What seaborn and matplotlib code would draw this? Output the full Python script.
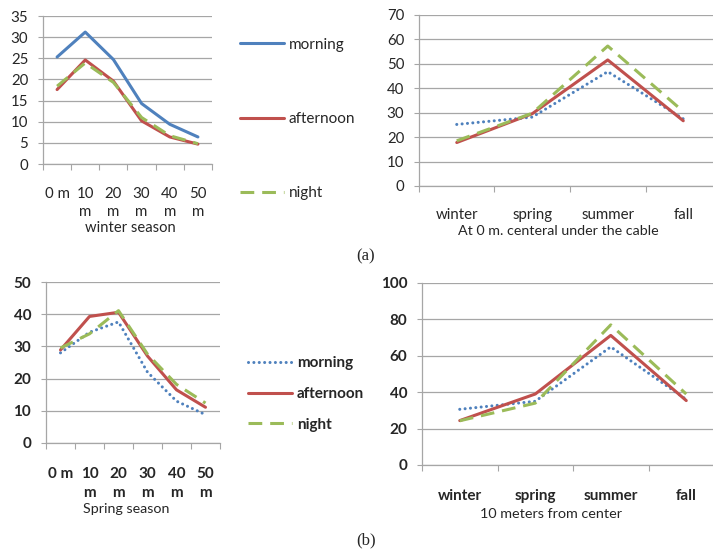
import matplotlib
matplotlib.use("Agg")
import matplotlib.pyplot as plt
from matplotlib.lines import Line2D
import seaborn as sns
import pandas as pd
import numpy as np

# ---------------- data ----------------
times = ["morning", "afternoon", "night"]
distances = ["0 m", "10 m", "20 m", "30 m", "40 m", "50 m"]
distance_labels = ["0 m", "10\nm", "20\nm", "30\nm", "40\nm", "50\nm"]
seasons = ["winter", "spring", "summer", "fall"]

winter_morning = [25.3, 31.2, 24.7, 14.3, 9.4, 6.4]
winter_afternoon = [17.6, 24.6, 19.6, 10.2, 6.4, 4.7]
winter_night = [18.4, 23.9, 19.3, 11.0, 6.7, 4.8]

center_morning = [25.2, 28.2, 46.8, 27.5]
center_afternoon = [17.8, 29.6, 51.6, 26.7]
center_night = [18.5, 29.8, 57.3, 30.5]

spring_morning = [28.0, 34.4, 37.6, 22.0, 13.0, 8.8]
spring_afternoon = [28.9, 39.3, 40.6, 27.0, 16.5, 11.1]
spring_night = [29.5, 33.9, 41.1, 27.6, 18.2, 12.4]

ten_m_morning = [30.6, 35.0, 64.9, 36.0]
ten_m_afternoon = [24.4, 39.0, 71.2, 35.4]
ten_m_night = [24.3, 34.0, 77.0, 39.0]

# ---------------- style ----------------
sns.set_theme(style="white")
plt.rcParams["font.family"] = ["Lato", "DejaVu Sans"]

BLUE = "#4f81bd"
RED = "#c0504d"
GREEN = "#9bbb59"
GRID = "#a6a6a6"
palette = {"morning": BLUE, "afternoon": RED, "night": GREEN}
DOT = (0.01, 1.75)
DASH = (4.5, 2.6)

W, H = 713, 553
fig = plt.figure(figsize=(W / 100, H / 100), dpi=100)


def px_axes(left, right, top, bottom):
    return fig.add_axes([left / W, 1 - bottom / H, (right - left) / W, (bottom - top) / H])


def make_df(cats, m, a, n):
    rows = []
    for t, vals in zip(times, [m, a, n]):
        for c, v in zip(cats, vals):
            rows.append({"cat": c, "value": v, "time": t})
    return pd.DataFrame(rows)


def draw(ax, cats, labels, m, a, n, morning_dotted, ymax, ystep, xlabel,
         bold, tick_pad, label_pad, label_x, xl_size, fs, ls=1.2):
    df = make_df(cats, m, a, n)
    dashes = {"morning": DOT if morning_dotted else "",
              "afternoon": "", "night": DASH}
    sns.lineplot(data=df, x="cat", y="value", hue="time", style="time",
                 palette=palette, dashes=dashes, sort=False, lw=2.2,
                 ax=ax, legend=False)
    for line in ax.get_lines():
        if morning_dotted and line.get_color() == BLUE:
            line.set_dash_capstyle("round")
        else:
            line.set_dash_capstyle("butt")
    n_c = len(cats)
    ax.set_xlim(-0.5, n_c - 0.5)
    ax.set_ylim(0, ymax)
    ax.set_yticks(np.arange(0, ymax + 0.1, ystep))
    ax.set_xticks(np.arange(-0.5, n_c, 1.0))
    ax.set_xticklabels([])
    ax.set_xticks(np.arange(n_c), minor=True)
    weight = "bold" if bold else "normal"
    ax.set_xticklabels(labels, minor=True, fontsize=fs, fontweight=weight,
                       linespacing=ls, va="top")
    for lab in ax.get_yticklabels():
        lab.set_fontweight(weight)
        lab.set_fontsize(fs)
    ax.tick_params(axis="x", which="minor", length=0, pad=tick_pad)
    ax.tick_params(axis="x", which="major", length=4.3, width=0.8,
                   color=GRID, direction="out", bottom=True)
    ax.tick_params(axis="y", length=3.6, width=0.8, color=GRID,
                   direction="out", left=True, pad=7)
    ax.yaxis.grid(True, color=GRID, lw=0.9)
    ax.xaxis.grid(False)
    for s in ["top", "right"]:
        ax.spines[s].set_visible(False)
    for s in ["left", "bottom"]:
        ax.spines[s].set_color(GRID)
        ax.spines[s].set_linewidth(0.9)
    ax.set_xlabel(xlabel, fontsize=xl_size, labelpad=label_pad)
    ax.xaxis.label.set_x(label_x)
    ax.set_ylabel("")


ax1 = px_axes(43, 212, 16, 164)
draw(ax1, distances, distance_labels, winter_morning, winter_afternoon, winter_night,
     False, 35, 5, "winter season", False, 16.5, 1, 0.518, 10.6, 10.8, ls=1.4)

ax2 = px_axes(419, 721, 15, 186)
draw(ax2, seasons, seasons, center_morning, center_afternoon, center_night,
     True, 70, 10, "At 0 m. centeral under the cable", False, 16, 2, 0.46, 10.3, 10.8)

ax3 = px_axes(46, 220, 282, 443)
draw(ax3, distances, distance_labels, spring_morning, spring_afternoon, spring_night,
     True, 50, 10, "Spring season", True, 17, 2, 0.46, 10.3, 11, ls=1.5)

ax4 = px_axes(422, 724, 283, 465)
draw(ax4, seasons, seasons, ten_m_morning, ten_m_afternoon, ten_m_night,
     True, 100, 20, "10 meters from center", True, 17, 4, 0.427, 10.4, 11)


# ---------------- legends ----------------
def legend_for(ax, morning_dotted, x, y, spacing, bold, fs):
    if morning_dotted:
        h_m = Line2D([], [], color=BLUE, lw=2.2, dashes=DOT, dash_capstyle="round")
    else:
        h_m = Line2D([], [], color=BLUE, lw=2.2)
    handles = [h_m,
               Line2D([], [], color=RED, lw=2.2),
               Line2D([], [], color=GREEN, lw=2.2, dashes=DASH, dash_capstyle="butt")]
    ax.legend(handles, times, loc="center left", bbox_to_anchor=(x / W, 1 - y / H),
              bbox_transform=fig.transFigure, frameon=False, handlelength=2.9,
              handletextpad=0.3, labelspacing=spacing, borderpad=0,
              borderaxespad=0,
              prop={"size": fs, "weight": "bold" if bold else "normal",
                    "family": ["Lato", "DejaVu Sans"]})


legend_for(ax1, False, 240, 119, 3.95, False, 11)
legend_for(ax3, True, 248, 394, 1.1, True, 11)

# ---------------- captions ----------------
fig.text(366 / W, 1 - 256 / H, "(a)", ha="center", va="center", fontsize=12,
         family=["Liberation Serif", "DejaVu Serif"])
fig.text(366 / W, 1 - 540 / H, "(b)", ha="center", va="center", fontsize=12,
         family=["Liberation Serif", "DejaVu Serif"])

fig.savefig("out.png", dpi=100, facecolor="white")
